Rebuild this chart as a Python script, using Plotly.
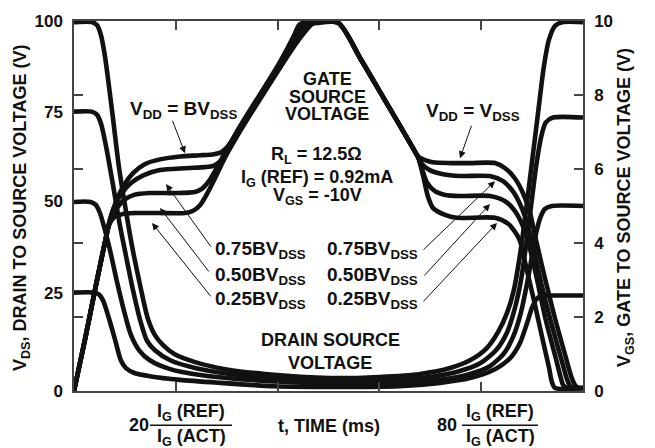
import plotly.graph_objects as go

# ---------------- data (x: time 0-100, VDS in left-axis units, VGS in volts) -------------
t_vds100 = [0, 3.5, 4.5, 5.3, 6.1, 7.5, 8.8, 10.2, 11.4, 13.0, 14.5, 15.9, 17.5, 19.8, 23.8, 29.7, 37.5, 50.3,
            60.1, 68.0, 73.9, 77.8, 81.1, 83.3, 85.1, 86.4, 87.6, 88.8, 90.0, 91.2, 92.3, 93.3, 94.5, 96.1, 100]
vds100 = [99.7, 99.7, 98.9, 96.2, 90.3, 75.5, 60.8, 48.7, 39.2, 28.5, 19.6, 15.1, 12.4, 9.9, 7.8, 5.9, 4.6, 3.5,
          3.8, 4.6, 6.2, 8.3, 11.6, 15.9, 21.2, 27.2, 36.6, 48.7, 62.1, 75.5, 87.6, 94.9, 98.7, 99.7, 99.7]

t_vds75 = [0, 3.5, 4.5, 5.3, 6.3, 7.7, 9.0, 10.2, 11.6, 13.0, 14.3, 15.9, 18.9, 23.8, 30.6, 39.5, 50.3,
           62.1, 69.9, 75.8, 79.8, 82.9, 85.1, 86.6, 87.8, 88.8, 89.8, 90.8, 91.8, 92.7, 94.1, 100]
vds75 = [75.5, 75.5, 74.7, 72.3, 66.1, 55.4, 44.9, 36.6, 27.2, 19.1, 13.7, 11.0, 8.3, 6.2, 4.6, 3.5, 2.7,
         3.0, 3.8, 5.4, 7.5, 11.0, 15.9, 22.3, 29.8, 39.2, 50.0, 60.8, 68.8, 72.6, 73.9, 73.9]

t_vds50 = [0, 3.3, 4.3, 5.1, 5.9, 7.1, 8.4, 9.8, 11.2, 12.8, 14.9, 18.9, 24.8, 32.6, 42.4, 50.3,
           64.0, 71.9, 77.8, 81.7, 84.5, 86.4, 87.8, 89.0, 90.0, 90.8, 91.6, 92.5, 93.9, 100]
vds50 = [51.1, 51.1, 50.3, 48.1, 44.4, 37.9, 29.8, 21.8, 15.1, 11.0, 8.3, 5.9, 4.3, 3.2, 2.4, 1.9,
         2.2, 3.0, 4.6, 6.7, 10.2, 15.1, 21.2, 29.0, 36.6, 42.7, 46.8, 49.2, 50.0, 50.0]

t_vds25 = [0, 3.9, 4.9, 5.7, 6.7, 8.1, 9.2, 10.2, 12.0, 14.9, 20.8, 28.7, 39.3, 50.3,
           64.0, 71.9, 77.8, 82.7, 85.7, 87.6, 89.0, 90.0, 90.8, 91.8, 93.5, 100]
vds25 = [26.6, 26.6, 26.1, 24.5, 20.4, 13.7, 8.3, 6.2, 4.8, 4.0, 3.0, 2.2, 1.3, 1.1,
         1.3, 2.2, 3.5, 5.9, 8.9, 12.9, 18.3, 22.6, 24.7, 25.8, 25.8, 25.8]

t_vgs_bv = [0, 2.2, 4.3, 5.9, 7.1, 8.3, 9.8, 11.6, 13.9, 16.9, 20.8, 24.8, 27.5, 28.9, 30.1, 31.2, 32.6, 36.5,
            40.5, 44.4, 46.8, 47.9, 51.9, 56.2, 60.1, 64.0, 66.4, 67.6, 69.0, 70.5, 73.9, 77.8, 82.7, 84.7,
            86.6, 88.2, 89.6, 90.8, 92.5, 94.5, 96.5, 97.8, 98.6, 99.4, 100]
vgs_bv = [0, 1.42, 2.85, 3.90, 4.65, 5.13, 5.56, 5.89, 6.13, 6.26, 6.34, 6.37, 6.40, 6.45, 6.59, 6.80, 7.10, 7.93,
          8.76, 9.54, 9.92, 9.95, 9.95, 9.0, 8.09, 7.18, 6.61, 6.34, 6.24, 6.18, 6.16, 6.16, 6.16, 6.02,
          5.75, 5.35, 4.81, 4.06, 3.06, 1.96, 0.97, 0.35, 0.13, 0.08, 0.08]

t_vgs_75 = [0, 2.2, 4.3, 5.9, 7.1, 8.1, 9.4, 11.2, 13.6, 16.9, 21.8, 25.7, 27.3, 28.5, 29.9, 31.2, 32.6, 36.5,
            40.5, 44.4, 46.0, 47.0, 51.9, 56.2, 60.1, 64.0, 66.4, 67.6, 68.4, 69.9, 72.5, 75.8, 81.7, 84.3,
            86.2, 87.8, 89.2, 90.2, 91.9, 93.9, 95.9, 96.9, 97.6, 98.4, 100]
vgs_75 = [0, 1.42, 2.85, 3.90, 4.65, 5.03, 5.35, 5.62, 5.83, 5.97, 6.02, 6.05, 6.08, 6.18, 6.40, 6.69, 7.02, 7.88,
          8.74, 9.60, 9.92, 9.95, 9.95, 9.0, 8.09, 7.18, 6.61, 6.32, 6.13, 5.97, 5.86, 5.81, 5.81, 5.67,
          5.40, 5.00, 4.46, 3.92, 2.85, 1.77, 0.78, 0.30, 0.11, 0.08, 0.08]

t_vgs_50 = [0, 2.2, 4.3, 5.9, 7.1, 8.3, 9.8, 11.8, 14.9, 19.8, 23.8, 25.1, 26.5, 27.9, 29.5, 31.0, 32.6, 36.5,
            40.5, 44.4, 45.2, 46.0, 51.9, 56.2, 60.1, 64.0, 66.4, 67.6, 68.4, 69.4, 70.9, 72.9, 75.8, 81.7,
            84.7, 86.6, 88.2, 89.2, 90.8, 92.7, 94.5, 95.5, 96.1, 96.9, 100]
vgs_50 = [0, 1.42, 2.85, 3.90, 4.60, 4.92, 5.16, 5.30, 5.35, 5.35, 5.38, 5.46, 5.67, 5.99, 6.40, 6.77, 7.15, 8.01,
          8.87, 9.73, 9.92, 9.95, 9.95, 9.0, 8.09, 7.18, 6.61, 6.32, 5.99, 5.62, 5.40, 5.30, 5.27, 5.27,
          5.13, 4.87, 4.46, 4.06, 3.12, 1.91, 0.97, 0.43, 0.16, 0.08, 0.08]

t_vgs_25 = [0, 2.2, 4.3, 5.9, 6.9, 7.9, 9.4, 12.0, 16.9, 21.8, 23.4, 24.8, 26.1, 27.7, 29.3, 30.8, 32.6, 36.5,
            40.5, 43.2, 44.2, 45.0, 51.9, 56.2, 60.1, 64.0, 66.4, 67.6, 68.6, 69.5, 70.5, 72.9, 75.2, 82.7,
            85.3, 86.8, 87.6, 89.0, 90.6, 92.1, 93.3, 93.9, 94.5, 100]
vgs_25 = [0, 1.42, 2.85, 3.90, 4.49, 4.70, 4.78, 4.81, 4.81, 4.81, 4.87, 5.03, 5.32, 5.75, 6.21, 6.61, 7.07, 7.98,
          8.90, 9.60, 9.89, 9.95, 9.95, 9.0, 8.09, 7.18, 6.61, 6.32, 5.81, 5.27, 4.95, 4.76, 4.68, 4.68,
          4.52, 4.27, 4.06, 3.25, 2.31, 1.37, 0.65, 0.24, 0.08, 0.08]

vds_tick_vals = [0, 26.6, 51.3, 75.5, 100]
vds_tick_text = ["0", "25", "50", "75", "100"]
vgs_tick_vals = [0, 2, 4, 6, 8, 10]
vgs_tick_text = ["0", "2", "4", "6", "8", "10"]
time_tick_vals = [20, 40, 60, 80]

# ---------------- figure -------------
FONT = "Liberation Sans, Arial, Helvetica, sans-serif"
INK = "#111111"
AXC = "#444444"
OFF = 8                      # default page body margin of the html page
W, H = 655 - OFF, 448 - OFF  # figure size so that it fills the window
L, R, T, B = 74, 583, 19, 391  # plot area in window pixels

fig = go.Figure()
line_style = dict(color=INK, width=4.6, shape="spline", smoothing=0.7)
for t, v in [(t_vds100, vds100), (t_vds75, vds75), (t_vds50, vds50), (t_vds25, vds25)]:
    fig.add_trace(go.Scatter(x=t, y=v, mode="lines", line=line_style, yaxis="y",
                             showlegend=False, hoverinfo="skip"))
for t, v in [(t_vgs_bv, vgs_bv), (t_vgs_75, vgs_75), (t_vgs_50, vgs_50), (t_vgs_25, vgs_25)]:
    fig.add_trace(go.Scatter(x=t, y=v, mode="lines", line=line_style, yaxis="y2",
                             showlegend=False, hoverinfo="skip"))


def px(x):
    return (x - L) / (R - L)


def py(y):
    return (B - y) / (B - T)


def label(text, x, y, size=18, xanchor="center", angle=0):
    fig.add_annotation(text=text, x=px(x), y=py(y), xref="paper", yref="paper",
                       showarrow=False, xanchor=xanchor, yanchor="middle", textangle=angle,
                       font=dict(family=FONT, size=size, color=INK, weight="bold"))


def arrow(tip, tail):
    fig.add_annotation(text="", x=px(tip[0]), y=py(tip[1]), xref="paper", yref="paper",
                       ax=tail[0] - tip[0], ay=tail[1] - tip[1], axref="pixel", ayref="pixel",
                       showarrow=True, arrowhead=2, arrowsize=1.4, arrowwidth=1.0,
                       arrowcolor=INK, standoff=0, startstandoff=0)


label("V<sub>DD</sub> = BV<sub>DSS</sub>", 183, 108, size=19)
label("V<sub>DD</sub> = V<sub>DSS</sub>", 473, 110, size=19)
label("GATE", 327, 77)
label("SOURCE", 327, 95)
label("VOLTAGE", 327, 113)
label("R<sub>L</sub> = 12.5Ω", 316, 154)
label("I<sub>G</sub> (REF) = 0.92mA", 317, 177)
label("V<sub>GS</sub> = -10V", 317, 195)
for txt, yy in [("0.75BV<sub>DSS</sub>", 249), ("0.50BV<sub>DSS</sub>", 275), ("0.25BV<sub>DSS</sub>", 300)]:
    label(txt, 213, yy, xanchor="left", size=19)
    label(txt, 420, yy, xanchor="right", size=19)
label("DRAIN SOURCE", 330, 340)
label("VOLTAGE", 330, 363)

# bottom axis labels
label("20", 139, 425)
label("I<sub>G</sub> (REF)", 191, 413)
label("I<sub>G</sub> (ACT)", 191, 438)
label("t, TIME (ms)", 329, 426)
label("80", 447, 425)
label("I<sub>G</sub> (REF)", 500, 413)
label("I<sub>G</sub> (ACT)", 500, 438)
for x0, x1 in [(150, 232), (462, 538)]:
    fig.add_shape(type="line", xref="paper", yref="paper", x0=px(x0), x1=px(x1), y0=py(425.5), y1=py(425.5),
                  line=dict(color=INK, width=1.5))

# axis titles
label("V<sub>DS</sub>, DRAIN TO SOURCE VOLTAGE (V)", 22, 207, angle=-90)
label("V<sub>GS</sub>, GATE TO SOURCE VOLTAGE (V)", 626, 207, angle=-90)

# arrows
arrow((185, 152), (172, 118))
arrow((460, 157), (472, 123))
arrow((166, 183), (212, 247))
arrow((160, 207), (210, 272))
arrow((152, 222), (212, 297))
arrow((495, 180), (422, 250))
arrow((490, 203), (423, 276))
arrow((497, 222), (422, 302))

tickfont = dict(family=FONT, size=17, color=INK, weight="bold")
fig.update_layout(
    width=W, height=H, autosize=False,
    margin=dict(l=L - OFF, r=W - (R - OFF), t=T - OFF, b=H - (B - OFF), pad=0),
    paper_bgcolor="white", plot_bgcolor="white",
    showlegend=False,
    xaxis=dict(range=[0, 100], showline=True, linecolor=AXC, linewidth=1.5, mirror="ticks",
               ticks="inside", tickvals=time_tick_vals, ticklen=9, tickwidth=1.5, tickcolor=AXC,
               showticklabels=False, showgrid=False, zeroline=False, fixedrange=True),
    yaxis=dict(range=[0, 100], showline=True, linecolor=AXC, linewidth=1.5, ticks="",
               tickvals=vds_tick_vals, ticktext=vds_tick_text, tickfont=tickfont,
               ticklabelstandoff=6, showgrid=False, zeroline=False, fixedrange=True, automargin=False),
    yaxis2=dict(range=[0, 10], overlaying="y", side="right", showline=True, linecolor=AXC,
                linewidth=1.5, mirror="ticks", ticks="inside", ticklen=9, tickwidth=1.5, tickcolor=AXC,
                tickvals=vgs_tick_vals, ticktext=vgs_tick_text, tickfont=tickfont,
                ticklabelstandoff=6, showgrid=False, zeroline=False, fixedrange=True, automargin=False),
)

fig.write_html("out.html")
